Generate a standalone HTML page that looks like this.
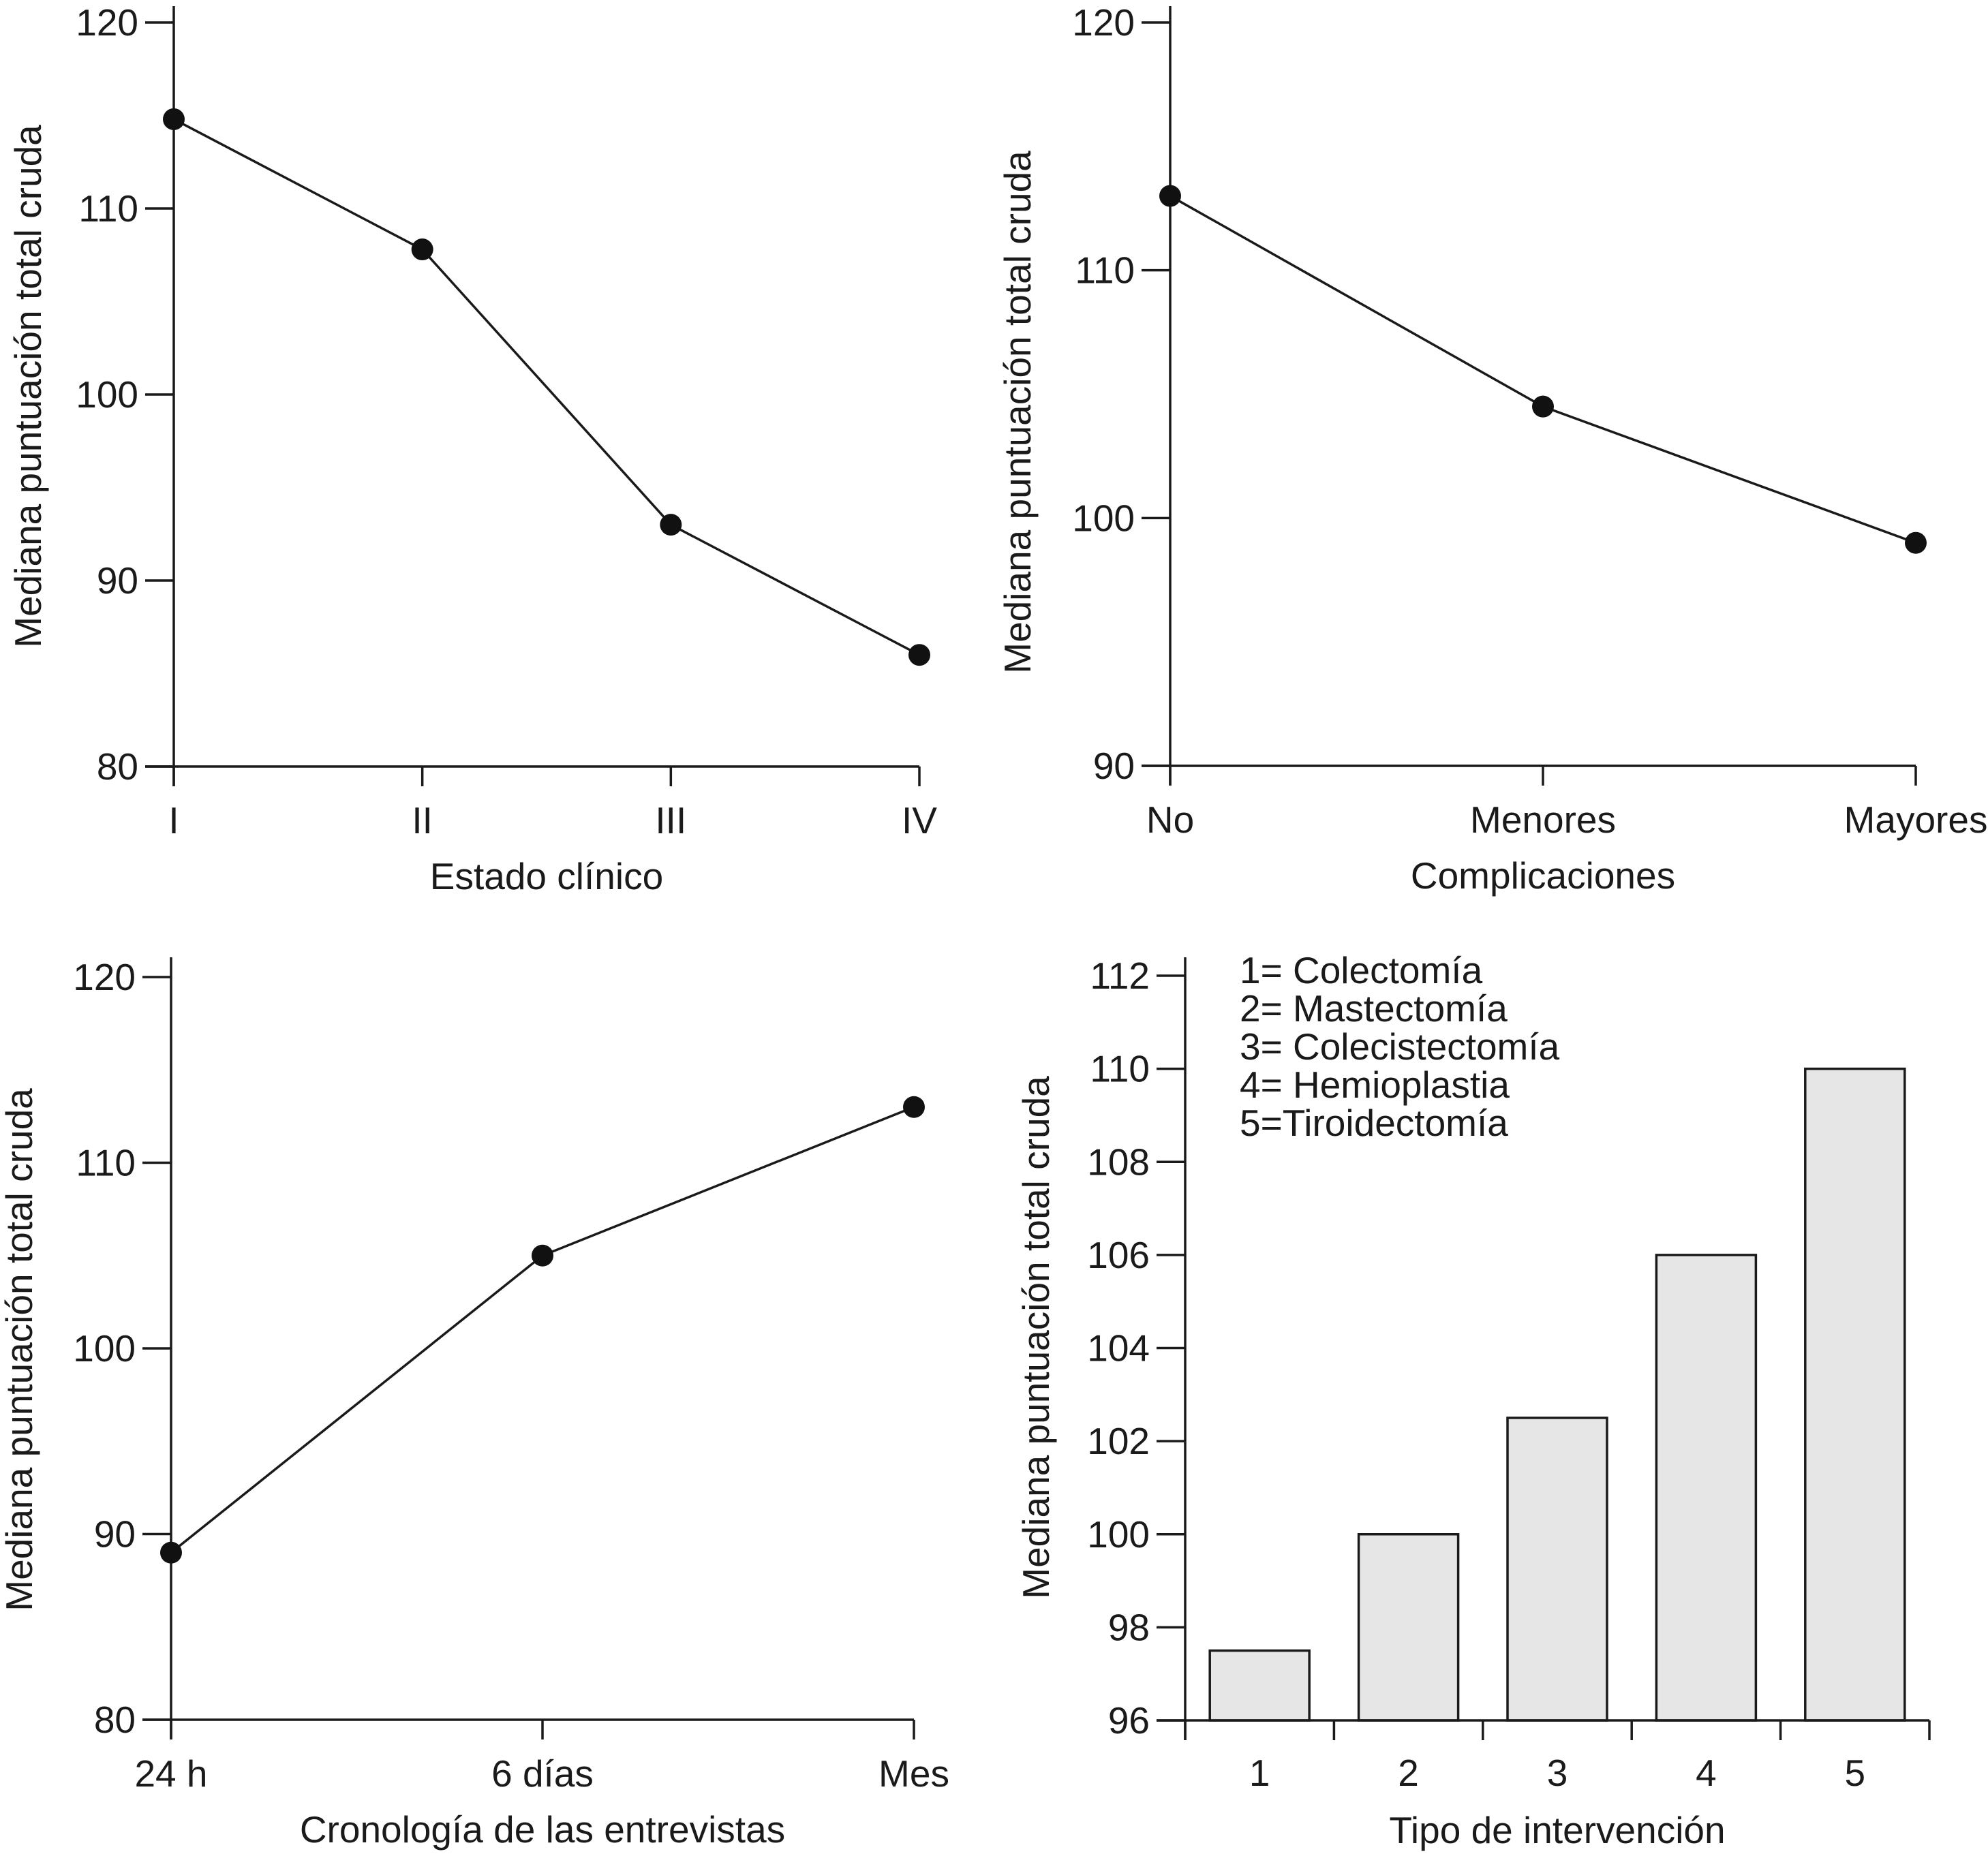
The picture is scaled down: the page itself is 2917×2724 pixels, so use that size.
<!DOCTYPE html>
<html><head><meta charset="utf-8"><style>
html,body{margin:0;padding:0;background:#fff}
svg{display:block}
text{font-family:"Liberation Sans",sans-serif;fill:#1a1a1a}
</style></head><body>
<svg id="fig" width="2917" height="2724" viewBox="0 0 2917 2724" xmlns="http://www.w3.org/2000/svg"></svg>
<script>
const p1Categories=["I","II","III","IV"];
const p1Values=[114.8,107.8,93,86];
const p1Ticks=[80,90,100,110,120];
const p2Categories=["No","Menores","Mayores"];
const p2Values=[113,104.5,99];
const p2Ticks=[90,100,110,120];
const p3Categories=["24 h","6 días","Mes"];
const p3Values=[89,105,113];
const p3Ticks=[80,90,100,110,120];
const p4Categories=["1","2","3","4","5"];
const p4Values=[97.5,100,102.5,106,110];
const p4Ticks=[96,98,100,102,104,106,108,110,112];
const p4Legend=["1= Colectomía","2= Mastectomía","3= Colecistectomía","4= Hemioplastia","5=Tiroidectomía"];

const svg=document.getElementById('fig');
const NS="http://www.w3.org/2000/svg";
function el(tag,attrs,parent){const e=document.createElementNS(NS,tag);for(const k in attrs)e.setAttribute(k,attrs[k]);(parent||svg).appendChild(e);return e;}
function txt(s,attrs,parent){const e=el('text',attrs,parent);e.textContent=s;return e;}
const SW=3.5, FS=55, TL=29;

function linePanel(id,cfg,cats,vals,ticks,xTitle){
  const g=el('g',{});
  
  
  const ymin=ticks[0],ymax=ticks[ticks.length-1];
  const yS=v=>cfg.yBot-(v-ymin)/(ymax-ymin)*(cfg.yBot-cfg.yTop);
  const xS=i=>cfg.x0+i*(cfg.x1-cfg.x0)/(cats.length-1);
  const ya=el('line',{x1:cfg.x0,y1:cfg.axTop,x2:cfg.x0,y2:cfg.yBot+TL,stroke:'#1a1a1a','stroke-width':SW},g);
  
  const xa=el('line',{x1:cfg.x0-42,y1:cfg.yBot,x2:cfg.x1,y2:cfg.yBot,stroke:'#1a1a1a','stroke-width':SW},g);
  
  ticks.forEach(t=>{
    el('line',{x1:cfg.x0-42,y1:yS(t),x2:cfg.x0,y2:yS(t),stroke:'#1a1a1a','stroke-width':SW},g);
    const l=txt(String(t),{x:cfg.x0-52,y:yS(t)+19,'text-anchor':'end','font-size':FS},g);
    
  });
  cats.forEach((c,i)=>{
    el('line',{x1:xS(i),y1:cfg.yBot,x2:xS(i),y2:cfg.yBot+TL,stroke:'#1a1a1a','stroke-width':SW},g);
    const l=txt(c,{x:xS(i),y:cfg.yBot+98,'text-anchor':'middle','font-size':FS},g);
    
  });
  const pts=vals.map((v,i)=>xS(i)+','+yS(v)).join(' ');
  const pl=el('polyline',{points:pts,fill:'none',stroke:'#1a1a1a','stroke-width':SW},g);
  
  vals.forEach((v,i)=>{
    const c=el('circle',{cx:xS(i),cy:yS(v),r:16,fill:'#111'},g);
    
  });
  const xt=txt(xTitle,{x:(cfg.x0+cfg.x1)/2,y:cfg.yBot+180,'text-anchor':'middle','font-size':FS},g);
  
  const yt=txt('Mediana puntuación total cruda',{x:0,y:0,'text-anchor':'middle','font-size':FS,transform:`translate(${cfg.ylx},${cfg.yly}) rotate(-90)`},g);
  
}

linePanel('chart-estado-clinico',{x0:255,x1:1349,yTop:33,yBot:1125,axTop:9,ylx:60,yly:567},p1Categories,p1Values,p1Ticks,'Estado clínico');
linePanel('chart-complicaciones',{x0:1717,x1:2811,yTop:33,yBot:1124,axTop:9,ylx:1512,yly:605},p2Categories,p2Values,p2Ticks,'Complicaciones');
linePanel('chart-cronologia',{x0:251,x1:1341,yTop:1434,yBot:2524,axTop:1405,ylx:47,yly:1981},p3Categories,p3Values,p3Ticks,'Cronología de las entrevistas');

(function(){
  const g=el('g',{});
  
  
  const x0=1739,x1=2831,yTop=1432,yBot=2525;
  const ymin=p4Ticks[0],ymax=p4Ticks[p4Ticks.length-1];
  const yS=v=>yBot-(v-ymin)/(ymax-ymin)*(yBot-yTop);
  const bw=(x1-x0)/p4Categories.length;
  const xS=i=>x0+bw*(i+0.5);
  p4Values.forEach((v,i)=>{
    const r=el('rect',{x:xS(i)-73,y:yS(v),width:146,height:yBot-yS(v),fill:'#e6e6e6',stroke:'#1a1a1a','stroke-width':SW},g);
    
  });
  const ya=el('line',{x1:x0,y1:1405,x2:x0,y2:yBot+TL,stroke:'#1a1a1a','stroke-width':SW},g);
  
  const xa=el('line',{x1:x0-42,y1:yBot,x2:x1,y2:yBot,stroke:'#1a1a1a','stroke-width':SW},g);
  
  p4Ticks.forEach(t=>{
    el('line',{x1:x0-42,y1:yS(t),x2:x0,y2:yS(t),stroke:'#1a1a1a','stroke-width':SW},g);
    const l=txt(String(t),{x:x0-52,y:yS(t)+19,'text-anchor':'end','font-size':FS},g);
    
  });
  for(let i=0;i<=p4Categories.length;i++){
    el('line',{x1:x0+bw*i,y1:yBot,x2:x0+bw*i,y2:yBot+TL,stroke:'#1a1a1a','stroke-width':SW},g);
  }
  p4Categories.forEach((c,i)=>{
    const l=txt(c,{x:xS(i),y:yBot+96,'text-anchor':'middle','font-size':FS},g);
    
  });
  p4Legend.forEach((s,i)=>{
    const l=txt(s,{x:1819,y:1443+i*56,'font-size':FS},g);
    
  });
  const xt=txt('Tipo de intervención',{x:(x0+x1)/2,y:yBot+180,'text-anchor':'middle','font-size':FS},g);
  
  const yt=txt('Mediana puntuación total cruda',{x:0,y:0,'text-anchor':'middle','font-size':FS,transform:'translate(1539,1963) rotate(-90)'},g);
  
})();
</script>
</body></html>
